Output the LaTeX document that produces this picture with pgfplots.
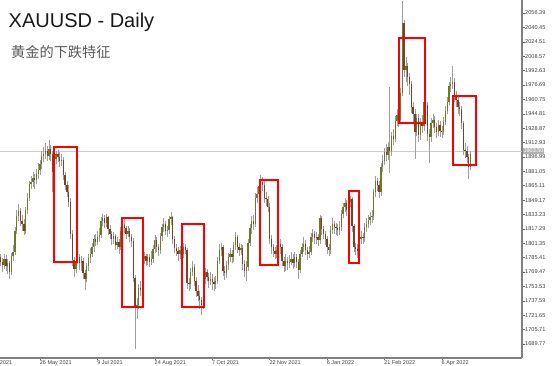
\documentclass[border=0pt]{standalone}
\usepackage{pgfplots}
\pgfplotsset{compat=1.18}
\usepackage{pgfplotstable}
\usepackage{fontspec}
\setmainfont{Liberation Sans}
\newfontfamily\cjk{Noto Sans CJK SC}
\definecolor{bull}{RGB}{108,122,40}
\definecolor{bear}{RGB}{124,64,34}
\definecolor{wick}{RGB}{158,158,158}
\pgfplotstableread{
i o h l c
0 1786 1790 1776 1781
1 1781 1785 1770 1777
2 1777 1789 1773 1784
3 1784 1788 1771 1776
4 1776 1784 1767 1779
5 1779 1782 1762 1769
6 1769 1791 1766 1787
7 1787 1799 1782 1792
8 1792 1819 1788 1815
9 1815 1838 1812 1831
10 1831 1845 1826 1837
11 1837 1840 1820 1826
12 1826 1833 1815 1823
13 1823 1828 1811 1815
14 1815 1842 1812 1838
15 1838 1857 1834 1852
16 1852 1870 1848 1867
17 1867 1876 1861 1869
18 1869 1880 1864 1874
19 1874 1878 1862 1871
20 1871 1884 1867 1878
21 1878 1890 1873 1882
22 1882 1894 1877 1889
23 1889 1903 1884 1898
24 1898 1908 1891 1900
25 1900 1912 1895 1903
26 1903 1909 1892 1898
27 1898 1916 1894 1906
28 1906 1910 1893 1900
29 1900 1903 1858 1880
30 1880 1899 1876 1895
31 1895 1904 1889 1900
32 1900 1905 1891 1897
33 1897 1902 1886 1892
34 1892 1900 1887 1894
35 1894 1897 1871 1877
36 1877 1880 1860 1866
37 1866 1870 1853 1858
38 1858 1866 1841 1847
39 1847 1852 1806 1812
40 1812 1816 1776 1783
41 1783 1786 1764 1773
42 1773 1790 1768 1782
43 1782 1795 1778 1786
44 1786 1790 1772 1779
45 1779 1787 1771 1782
46 1782 1785 1762 1768
47 1768 1772 1750 1762
48 1762 1780 1758 1776
49 1776 1789 1771 1785
50 1785 1796 1780 1790
51 1790 1802 1786 1797
52 1797 1810 1792 1806
53 1806 1812 1798 1803
54 1803 1815 1799 1808
55 1808 1818 1803 1811
56 1811 1830 1807 1826
57 1826 1834 1820 1829
58 1829 1833 1818 1824
59 1824 1834 1819 1830
60 1830 1832 1811 1817
61 1817 1822 1806 1812
62 1812 1815 1799 1806
63 1806 1814 1800 1809
64 1809 1812 1794 1799
65 1799 1808 1795 1803
66 1803 1806 1790 1797
67 1797 1819 1794 1815
68 1815 1826 1811 1822
69 1822 1829 1813 1818
70 1818 1821 1806 1812
71 1812 1820 1808 1815
72 1815 1818 1803 1808
73 1808 1812 1797 1804
74 1804 1807 1758 1763
75 1763 1766 1684 1730
76 1730 1741 1718 1733
77 1733 1756 1729 1752
78 1752 1760 1743 1750
79 1750 1788 1746 1784
80 1784 1792 1778 1787
81 1787 1790 1776 1782
82 1782 1790 1777 1786
83 1786 1789 1775 1781
84 1781 1793 1777 1784
85 1784 1799 1780 1795
86 1795 1810 1791 1805
87 1805 1808 1792 1797
88 1797 1800 1787 1794
89 1794 1813 1790 1809
90 1809 1823 1804 1819
91 1819 1829 1814 1823
92 1823 1826 1810 1815
93 1815 1821 1808 1816
94 1816 1832 1812 1828
95 1828 1836 1822 1830
96 1830 1832 1800 1806
97 1806 1809 1791 1796
98 1796 1801 1787 1793
99 1793 1797 1782 1790
100 1790 1798 1784 1794
101 1794 1797 1783 1789
102 1789 1802 1785 1797
103 1797 1801 1789 1794
104 1794 1796 1751 1757
105 1757 1763 1748 1756
106 1756 1774 1751 1770
107 1770 1782 1765 1775
108 1775 1778 1754 1760
109 1760 1764 1742 1748
110 1748 1755 1737 1743
111 1743 1748 1729 1738
112 1738 1742 1722 1733
113 1733 1767 1729 1762
114 1762 1774 1756 1770
115 1770 1773 1759 1764
116 1764 1768 1752 1760
117 1760 1770 1755 1762
118 1762 1767 1750 1758
119 1758 1764 1749 1756
120 1756 1765 1751 1760
121 1760 1786 1756 1782
122 1782 1800 1778 1794
123 1794 1802 1787 1797
124 1797 1799 1765 1771
125 1771 1776 1761 1768
126 1768 1782 1763 1777
127 1777 1791 1772 1786
128 1786 1796 1781 1790
129 1790 1794 1779 1786
130 1786 1803 1781 1799
131 1799 1814 1794 1808
132 1808 1811 1791 1797
133 1797 1802 1787 1794
134 1794 1800 1788 1796
135 1796 1799 1772 1778
136 1778 1783 1764 1771
137 1771 1782 1760 1775
138 1775 1806 1771 1802
139 1802 1823 1798 1818
140 1818 1831 1812 1826
141 1826 1833 1816 1823
142 1823 1857 1819 1852
143 1852 1864 1846 1856
144 1856 1870 1850 1865
145 1865 1877 1858 1869
146 1869 1875 1859 1866
147 1866 1870 1846 1852
148 1852 1858 1843 1850
149 1850 1854 1836 1842
150 1842 1846 1800 1806
151 1806 1810 1790 1797
152 1797 1801 1786 1793
153 1793 1797 1784 1790
154 1790 1799 1785 1794
155 1794 1806 1789 1801
156 1801 1806 1790 1797
157 1797 1800 1776 1782
158 1782 1786 1770 1776
159 1776 1789 1771 1782
160 1782 1786 1772 1779
161 1779 1788 1774 1781
162 1781 1792 1777 1784
163 1784 1789 1773 1779
164 1779 1792 1775 1786
165 1786 1789 1774 1781
166 1781 1784 1762 1772
167 1772 1794 1768 1790
168 1790 1802 1786 1797
169 1797 1808 1792 1801
170 1801 1805 1788 1794
171 1794 1797 1783 1790
172 1790 1798 1785 1792
173 1792 1813 1788 1808
174 1808 1817 1803 1812
175 1812 1815 1800 1807
176 1807 1814 1801 1808
177 1808 1812 1798 1805
178 1805 1833 1801 1829
179 1829 1831 1811 1817
180 1817 1821 1806 1812
181 1812 1815 1799 1806
182 1806 1809 1790 1797
183 1797 1801 1787 1794
184 1794 1820 1790 1816
185 1816 1829 1812 1823
186 1823 1826 1812 1819
187 1819 1824 1811 1818
188 1818 1823 1809 1816
189 1816 1826 1811 1819
190 1819 1838 1815 1834
191 1834 1846 1829 1841
192 1841 1852 1836 1846
193 1846 1849 1832 1838
194 1838 1852 1834 1847
195 1847 1854 1841 1850
196 1850 1853 1814 1820
197 1820 1823 1792 1797
198 1797 1802 1788 1795
199 1795 1800 1785 1793
200 1793 1810 1789 1806
201 1806 1815 1801 1808
202 1808 1813 1800 1807
203 1807 1824 1803 1819
204 1819 1829 1814 1823
205 1823 1833 1818 1827
206 1827 1836 1822 1830
207 1830 1838 1824 1831
208 1831 1862 1827 1858
209 1858 1876 1853 1870
210 1870 1874 1859 1866
211 1866 1870 1851 1858
212 1858 1890 1854 1886
213 1886 1899 1880 1893
214 1893 1907 1888 1902
215 1902 1911 1893 1899
216 1899 1914 1894 1908
217 1908 1974 1879 1903
218 1903 1925 1898 1920
219 1920 1928 1910 1917
220 1917 1942 1913 1937
221 1937 1950 1931 1943
222 1943 1949 1930 1938
223 1938 1973 1934 1968
224 1968 2070 1964 2045
225 2045 2049 1986 1993
226 1993 2008 1980 1998
227 1998 2001 1976 1985
228 1985 1990 1966 1978
229 1978 1981 1946 1952
230 1952 1958 1936 1945
231 1945 1950 1895 1925
232 1925 1945 1920 1940
233 1940 1944 1914 1921
234 1921 1940 1916 1935
235 1935 1943 1924 1931
236 1931 1962 1926 1958
237 1958 1966 1948 1955
238 1955 1958 1915 1922
239 1922 1928 1890 1919
240 1919 1940 1914 1935
241 1935 1944 1929 1938
242 1938 1942 1924 1930
243 1930 1934 1918 1925
244 1925 1938 1920 1932
245 1932 1937 1919 1926
246 1926 1931 1918 1925
247 1925 1941 1921 1936
248 1936 1953 1932 1948
249 1948 1963 1944 1958
250 1958 1980 1954 1975
251 1975 1986 1969 1978
252 1978 1998 1972 1980
253 1980 1984 1958 1965
254 1965 1970 1952 1960
255 1960 1964 1945 1952
256 1952 1958 1942 1950
257 1950 1953 1928 1934
258 1934 1937 1899 1905
259 1905 1912 1896 1903
260 1903 1909 1890 1897
261 1897 1900 1873 1886
262 1886 1904 1882 1900
}\gold

\begin{document}
\begin{tikzpicture}
\useasboundingbox (0,0) rectangle (554pt,366pt);
\begin{axis}[
  at={(0pt,8pt)}, anchor=south west,
  scale only axis, width=522pt, height=358pt,
  xmin=-0.3, xmax=290.7, ymin=1674.27, ymax=2070.79,
  clip=false,
  axis x line*=bottom, axis y line*=right,
  axis line style={draw=black!50, line width=1.1pt},
  xtick pos=left, ytick pos=right, xticklabel pos=left, yticklabel pos=right,
  tick align=outside, major tick length=2.5pt,
  tick style={draw=black!60, line width=0.4pt},
  xtick={22,54,86,118,150,182,214,246},
  xticklabels={26 May 2021,9 Jul 2021,24 Aug 2021,7 Oct 2021,22 Nov 2021,6 Jan 2022,21 Feb 2022,6 Apr 2022},
  xticklabel style={anchor=north west, inner sep=0pt, xshift=-0.3pt, yshift=0.5pt, font=\fontsize{5.5}{6}\selectfont, text=black!75},
  ytick={1689.77,1705.71,1721.65,1737.59,1753.53,1769.47,1785.41,1801.35,1817.29,1833.23,1849.17,1865.11,1881.05,1896.99,1912.93,1928.87,1944.81,1960.75,1976.69,1992.63,2008.57,2024.51,2040.45,2056.39},
  yticklabels={1689.77,1705.71,1721.65,1737.59,1753.53,1769.47,1785.41,1801.35,1817.29,1833.23,1849.17,1865.11,1881.05,1896.99,1912.93,1928.87,1944.81,1960.75,1976.69,1992.63,2008.57,2024.51,2040.45,2056.39},
  yticklabel style={anchor=west, inner sep=0pt, xshift=0.5pt, font=\fontsize{5.6}{6}\selectfont, text=black!75},
]
% bid line
\draw[draw=black!20, line width=0.5pt] (axis cs:-0.3,1903.5) -- (axis cs:290.7,1903.5);
% wicks
\addplot[draw=none, no markers, forget plot,
  error bars/.cd, y dir=plus, y explicit, error mark=none,
  error bar style={draw=wick, line width=0.6pt}]
  table[x=i, y=l, y error plus expr=\thisrow{h}-\thisrow{l}] {\gold};
% bull bodies
\addplot[draw=none, no markers, forget plot,
  error bars/.cd, y dir=plus, y explicit, error mark=none,
  error bar style={draw=bull, line width=1.35pt}]
  table[x=i, y=o, y error plus expr={max(\thisrow{c}-\thisrow{o},0)}] {\gold};
% bear bodies
\addplot[draw=none, no markers, forget plot,
  error bars/.cd, y dir=minus, y explicit, error mark=none,
  error bar style={draw=bear, line width=1.35pt}]
  table[x=i, y=o, y error minus expr={max(\thisrow{o}-\thisrow{c},0)}] {\gold};
% red annotation boxes
\begin{scope}[draw=red, line width=1.8pt]
\draw (axis cs:29.8,1908.0) rectangle (axis cs:42.6,1780.6);
\draw (axis cs:67.7,1829.3) rectangle (axis cs:79.4,1730.8);
\draw (axis cs:101.2,1822.7) rectangle (axis cs:113.4,1730.8);
\draw (axis cs:144.6,1871.4) rectangle (axis cs:154.7,1777.3);
\draw (axis cs:194.3,1859.2) rectangle (axis cs:199.8,1779.5);
\draw (axis cs:222.1,2028.7) rectangle (axis cs:236.6,1934.6);
\draw (axis cs:252.2,1964.5) rectangle (axis cs:265.1,1888.0);
\end{scope}
% current price label
\node[anchor=west, fill=black!30, text=white, inner sep=0.6pt, font=\fontsize{5.5}{6}\selectfont] at (axis cs:290.7,1903.5) [xshift=0.8pt] {1903.50};
% first (cut) date label
\node[anchor=north west, inner sep=0pt, font=\fontsize{5.5}{6}\selectfont, text=black!75] at (axis cs:-10.3,1674.27) [yshift=-2pt] {12 Apr 2021};
\end{axis}
\node[anchor=base west, inner sep=0pt, font=\fontsize{20}{24}\selectfont, text=black!90] at (8.5pt,338pt) {XAUUSD - Daily};
\node[anchor=base west, inner sep=0pt, font=\cjk\fontsize{14.2}{17}\selectfont, text=black!65] at (11pt,308pt) {黄金的下跌特征};
\end{tikzpicture}
\end{document}
